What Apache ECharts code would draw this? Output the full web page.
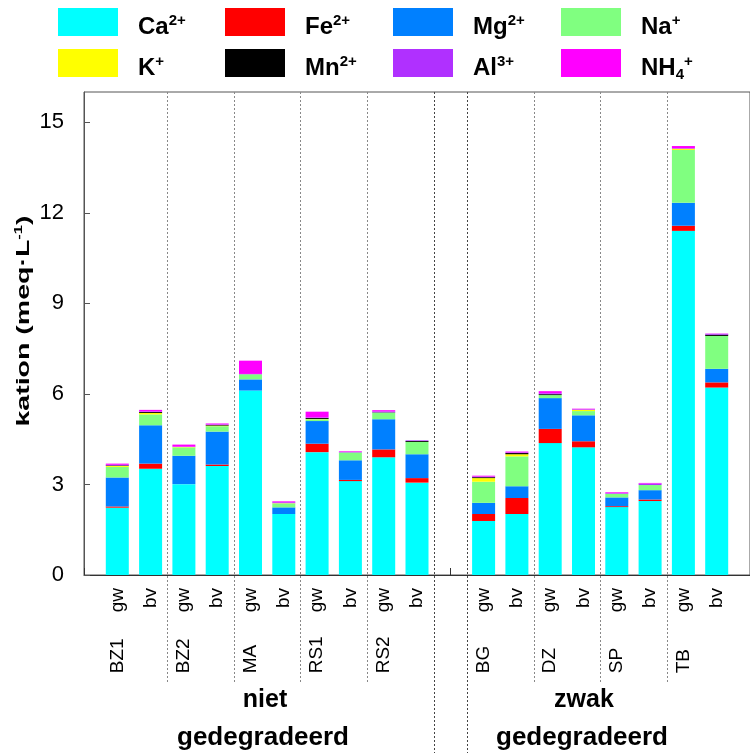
<!DOCTYPE html>
<html>
<head>
<meta charset="utf-8">
<script src="https://cdn.jsdelivr.net/npm/echarts@6/dist/echarts.min.js"></script>
<style>
  html, body { margin: 0; padding: 0; background: #fff; }
  #chart { width: 750px; height: 753px; }
</style>
</head>
<body>
<div id="chart"></div>
<script>
// Sample sites and sample types, one entry per bar ('' = spacer between the two groups)
const sites = ['BZ1', 'BZ1', 'BZ2', 'BZ2', 'MA', 'MA', 'RS1', 'RS1', 'RS2', 'RS2', '',
               'BG', 'BG', 'DZ', 'DZ', 'SP', 'SP', 'TB', 'TB'];
const types = ['gw', 'bv', 'gw', 'bv', 'gw', 'bv', 'gw', 'bv', 'gw', 'bv', '',
               'gw', 'bv', 'gw', 'bv', 'gw', 'bv', 'gw', 'bv'];

// Degradation classes shown under the axis
const groupTop = ['niet', 'zwak'];
const groupBottom = ['gedegradeerd', 'gedegradeerd'];

// Cation concentrations (meq/L)
const ions = ['Ca2+', 'Fe2+', 'Mg2+', 'Na+', 'K+', 'Mn2+', 'Al3+', 'NH4+'];
const ca  = [2.23, 3.52, 3.01, 3.61, 6.11, 2.02, 4.07, 3.11, 3.90, 3.06, null, 1.79, 2.02, 4.37, 4.23, 2.25, 2.45, 11.40, 6.21];
const fe  = [0.04, 0.17, 0.00, 0.05, 0.00, 0.00, 0.28, 0.04, 0.26, 0.15, null, 0.23, 0.53, 0.47, 0.20, 0.03, 0.05, 0.17, 0.17];
const mg  = [0.96, 1.27, 0.94, 1.09, 0.37, 0.22, 0.75, 0.65, 1.00, 0.79, null, 0.37, 0.39, 1.02, 0.86, 0.29, 0.31, 0.76, 0.45];
const na  = [0.35, 0.36, 0.28, 0.18, 0.17, 0.13, 0.06, 0.26, 0.22, 0.41, null, 0.70, 0.99, 0.10, 0.14, 0.12, 0.17, 1.75, 1.09];
const k   = [0.03, 0.05, 0.01, 0.02, 0.00, 0.01, 0.01, 0.00, 0.00, 0.00, null, 0.12, 0.07, 0.00, 0.04, 0.00, 0.00, 0.04, 0.00];
const mn  = [0.02, 0.03, 0.00, 0.02, 0.00, 0.00, 0.03, 0.00, 0.01, 0.03, null, 0.03, 0.04, 0.03, 0.00, 0.00, 0.00, 0.00, 0.04];
const al  = [0.02, 0.02, 0.01, 0.02, 0.01, 0.03, 0.02, 0.02, 0.03, 0.02, null, 0.02, 0.02, 0.03, 0.02, 0.02, 0.05, 0.02, 0.03];
const nh4 = [0.04, 0.05, 0.07, 0.03, 0.44, 0.03, 0.19, 0.02, 0.04, 0.00, null, 0.03, 0.03, 0.07, 0.02, 0.03, 0.02, 0.07, 0.01];

// Y axis ticks
const yMin = 0, yMax = 16, yStep = 3;

const ionValues = [ca, fe, mg, na, k, mn, al, nh4];
const ionColors = ['#00FFFF', '#FF0000', '#0080FF', '#80FF80', '#FFFF00', '#000000', '#B030FF', '#FF00FF'];
const ionRich = {
  'Ca2+': '{b|Ca}{p|2+}', 'Fe2+': '{b|Fe}{p|2+}', 'Mg2+': '{b|Mg}{p|2+}', 'Na+': '{b|Na}{p|+}',
  'K+': '{b|K}{p|+}', 'Mn2+': '{b|Mn}{p|2+}', 'Al3+': '{b|Al}{p|3+}', 'NH4+': '{b|NH}{u|4}{p|+}'
};

const FONT = '"Liberation Sans", Arial, sans-serif';

// Category axis: one padding slot on each side of the bars
const categories = ['start'].concat(sites.map((s, i) => s ? s + ' ' + types[i] : 'gap')).concat(['end']);
const pad = arr => [null].concat(arr).concat([null]);

// Legend laid out as a 4 x 2 table: one swatch block per ion, captions set next to them
const legendCols = [58, 225, 393, 561];
const legendRows = [8, 49];
const swatchW = 60, swatchH = 28;
const legends = ions.map((name, j) => ({
  left: legendCols[j % 4], top: legendRows[Math.floor(j / 4)], padding: 0,
  itemWidth: swatchW, itemHeight: swatchH, icon: 'rect',
  data: [name],
  formatter: () => '',
  selectedMode: false
}));

const chart = echarts.init(document.getElementById('chart'), null, { renderer: 'canvas' });

const option = {
  animation: false,
  backgroundColor: '#fff',
  textStyle: { fontFamily: FONT },
  grid: {
    left: 84, top: 92, width: 673, height: 483,
    show: true, borderColor: '#555', borderWidth: 1, backgroundColor: 'transparent'
  },
  legend: legends,
  xAxis: {
    type: 'category',
    data: categories,
    boundaryGap: false,
    axisLine: { lineStyle: { color: '#333', width: 1 } },
    axisTick: { inside: true, length: 7, interval: 0, lineStyle: { color: '#333' } },
    axisLabel: {
      interval: 0, rotate: 90, margin: 13, color: '#000',
      formatter: (val, idx) => {
        const i = idx - 1;
        if (i < 0 || i >= types.length || !types[i]) return '';
        return types[i] === 'gw' ? '{s|' + sites[i] + '}{t|gw}' : '{t|' + types[i] + '}';
      },
      rich: {
        s: { width: 61, align: 'left', fontSize: 19, fontFamily: FONT, color: '#000' },
        t: { align: 'right', fontSize: 19, fontFamily: FONT, color: '#000' }
      }
    },
    splitLine: { show: false }
  },
  yAxis: {
    type: 'value',
    min: yMin, max: yMax, interval: yStep,
    axisLine: { show: true, lineStyle: { color: '#555' } },
    axisTick: { show: true, inside: true, length: 6, lineStyle: { color: '#555' } },
    axisLabel: { fontSize: 22, color: '#000', margin: 20, showMaxLabel: false, fontFamily: FONT },
    splitLine: { show: false }
  },
  series: ions.map((name, j) => ({
    name: name,
    type: 'bar',
    stack: 'cation',
    barWidth: 23,
    itemStyle: { color: ionColors[j] },
    emphasis: { disabled: true },
    data: pad(ionValues[j])
  }))
};

chart.setOption(option);

// Graphic overlay: separators between sites, legend captions, group captions and the y-axis title
const px = idx => chart.convertToPixel({ xAxisIndex: 0 }, idx);
const plotTop = 92;
const elements = [];
for (let i = 1; i < sites.length; i++) {
  const gapEdge = !sites[i] || !sites[i - 1];
  const siteEdge = types[i] === 'gw';
  if (!gapEdge && !siteEdge) continue;
  const x = Math.round((px(i) + px(i + 1)) / 2) + 0.5;
  elements.push({
    type: 'line', silent: true,
    shape: { x1: x, y1: plotTop, x2: x, y2: gapEdge ? 753 : 682 },
    style: { stroke: gapEdge ? '#444' : '#888', lineWidth: 1, lineDash: [2, 2] }
  });
}
ions.forEach((name, j) => {
  elements.push({
    type: 'text', silent: true,
    x: legendCols[j % 4] + swatchW + 20,
    y: legendRows[Math.floor(j / 4)] + swatchH / 2 + 5,
    style: {
      text: ionRich[name], align: 'left', verticalAlign: 'middle', fill: '#000',
      rich: {
        b: { font: 'bold 24px ' + FONT, lineHeight: 28, fill: '#000' },
        p: { font: 'bold 15px ' + FONT, lineHeight: 20, verticalAlign: 'top', fill: '#000' },
        u: { font: 'bold 15px ' + FONT, lineHeight: 16, verticalAlign: 'bottom', fill: '#000' }
      }
    }
  });
});
const groupCenters = [265, 584];
groupTop.forEach((t, g) => {
  elements.push({
    type: 'text', silent: true, x: groupCenters[g], y: 700,
    style: { text: t, font: 'bold 25px ' + FONT, fill: '#000', align: 'center', verticalAlign: 'middle' }
  });
  elements.push({
    type: 'text', silent: true, x: groupCenters[g] - 2, y: 738,
    style: { text: groupBottom[g], font: 'bold 26px ' + FONT, fill: '#000', align: 'center', verticalAlign: 'middle' }
  });
});
elements.push({
  type: 'text', silent: true, x: 24, y: 321, rotation: Math.PI / 2, scaleX: 1.5,
  style: {
    text: '{m|kation (meq·L}{s|-1}{m|)}', align: 'center', verticalAlign: 'middle', fill: '#000',
    rich: {
      m: { font: 'bold 19px ' + FONT, lineHeight: 22, fill: '#000' },
      s: { font: 'bold 11px ' + FONT, lineHeight: 14, verticalAlign: 'top', fill: '#000' }
    }
  }
});
chart.setOption({ graphic: { elements: elements } });
</script>
</body>
</html>
